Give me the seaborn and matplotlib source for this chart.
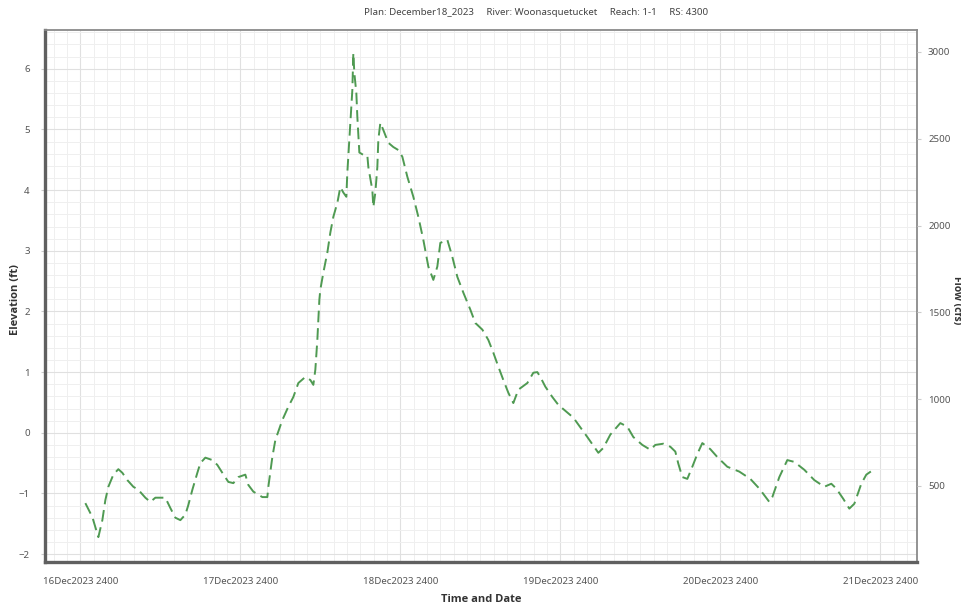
import pandas as pd
import seaborn as sns
from matplotlib import pyplot as plt
from matplotlib.ticker import MultipleLocator

sns.set_style("white")
plt.rcParams['font.family'] = ['Noto Sans', 'DejaVu Sans']

# hours after 16Dec2023 2400, and stage in ft
hours = [0.75, 1.8, 2.7, 3.3, 3.75, 4.2, 4.95, 5.7, 6.3, 7.05, 7.95, 8.7, 9.75, 10.5,
         11.25, 12.75, 13.5, 14.25, 15.0, 15.75, 16.2, 16.8, 17.55, 18.0, 18.75, 19.8,
         20.55, 21.3, 22.2, 22.95, 23.7, 24.75, 25.2, 25.95, 27.3, 28.05, 28.2, 28.8,
         29.25, 30.3, 31.2, 31.95, 32.7, 33.75, 34.5, 34.95, 35.25, 35.55, 35.85, 36.0,
         36.45, 37.05, 37.5, 37.95, 38.55, 39.0, 39.45, 39.9, 40.05, 40.35, 40.8, 40.95,
         41.1, 41.4, 41.55, 41.85, 42.45, 43.05, 43.2, 43.8, 43.95, 44.25, 44.55, 44.7,
         45.0, 45.45, 46.2, 46.95, 47.7, 48.3, 49.05, 49.95, 50.7, 51.45, 52.2, 52.95,
         53.55, 54.0, 55.05, 55.8, 56.55, 57.45, 58.5, 59.25, 60.3, 61.2, 61.95, 62.7,
         63.45, 64.2, 64.95, 65.7, 67.05, 67.95, 68.55, 69.0, 69.75, 70.8, 71.7, 73.95,
         76.05, 77.7, 78.45, 79.5, 81.0, 82.05, 82.95, 84.3, 85.5, 86.25, 87.45, 88.5,
         89.25, 89.7, 90.3, 91.05, 91.8, 92.55, 93.3, 94.5, 95.55, 97.05, 98.85, 100.5,
         101.85, 103.35, 103.8, 104.85, 106.05, 107.1, 108.6, 110.1, 111.6, 112.65,
         113.4, 114.45, 115.35, 116.1, 117.15, 117.9, 118.95]
elevation = [-1.16, -1.39, -1.72, -1.44, -1.11, -0.89, -0.69, -0.60, -0.66, -0.78, -0.89,
             -0.94, -1.07, -1.14, -1.07, -1.07, -1.24, -1.40, -1.44, -1.35, -1.19, -0.94,
             -0.66, -0.50, -0.41, -0.45, -0.53, -0.66, -0.81, -0.83, -0.73, -0.69, -0.86,
             -0.97, -1.06, -1.06, -0.89, -0.40, -0.12, 0.21, 0.43, 0.59, 0.82, 0.92, 0.87,
             0.79, 1.04, 1.53, 2.19, 2.36, 2.64, 2.97, 3.30, 3.56, 3.79, 4.05, 3.96, 3.89,
             4.29, 4.83, 5.65, 6.26, 5.93, 5.60, 5.21, 4.62, 4.58, 4.57, 4.38, 4.00, 3.72,
             3.96, 4.38, 4.83, 5.11, 4.99, 4.78, 4.71, 4.66, 4.55, 4.22, 3.89, 3.56, 3.18,
             2.74, 2.52, 2.74, 3.13, 3.18, 2.90, 2.57, 2.31, 2.03, 1.81, 1.70, 1.53, 1.32,
             1.09, 0.87, 0.66, 0.49, 0.71, 0.82, 0.99, 1.00, 0.92, 0.76, 0.59, 0.46, 0.25,
             -0.07, -0.33, -0.25, -0.03, 0.16, 0.10, -0.07, -0.20, -0.28, -0.20, -0.18,
             -0.23, -0.31, -0.51, -0.73, -0.76, -0.56, -0.35, -0.17, -0.27, -0.40, -0.56,
             -0.64, -0.76, -0.92, -1.14, -1.06, -0.73, -0.45, -0.48, -0.61, -0.78, -0.89,
             -0.84, -0.92, -1.09, -1.25, -1.17, -0.84, -0.69, -0.61]

tick_dates = ["2023-12-17", "2023-12-18", "2023-12-19", "2023-12-20", "2023-12-21", "2023-12-22"]
tick_labels = ["16Dec2023 2400", "17Dec2023 2400", "18Dec2023 2400",
               "19Dec2023 2400", "20Dec2023 2400", "21Dec2023 2400"]
elev_ticks = [-2, -1, 0, 1, 2, 3, 4, 5, 6]
flow_ticks = [500, 1000, 1500, 2000, 2500, 3000]

base = pd.Timestamp("2023-12-17 00:00")
df = pd.DataFrame({"time": base + pd.to_timedelta(hours, unit="h"), "elevation": elevation})

fig = plt.figure(figsize=(9.62, 6.06), dpi=100)
ax = fig.add_axes([0.0468, 0.0726, 0.9064, 0.878])

sns.lineplot(ax=ax, data=df, x="time", y="elevation", color="#4f9a52",
             linewidth=1.4, dashes=False)
ax.lines[0].set_dashes((6, 3))

ax.set_xlim(base - pd.Timedelta(hours=5.3), base + pd.Timedelta(hours=125.5))
ax.set_ylim(-2.13, 6.64)
ax.set_xticks(pd.to_datetime(tick_dates))
ax.set_xticklabels(tick_labels)
ax.xaxis.set_minor_locator(MultipleLocator(1 / 12))
ax.set_yticks(elev_ticks)
ax.yaxis.set_minor_locator(MultipleLocator(0.2))

ax.grid(which="major", color="#e0e0e0", linewidth=0.8)
ax.grid(which="minor", color="#efefef", linewidth=0.7)
ax.set_axisbelow(True)
ax.set_xlabel("")
ax.set_ylabel("")
ax.tick_params(axis="both", which="major", labelsize=7, labelcolor="#555555",
               length=3, color="#cccccc", direction="out", pad=8)
ax.tick_params(axis="x", which="minor", length=2, color="#e4e4e4", direction="out")
ax.tick_params(axis="y", which="minor", length=0)

for side in ["left", "bottom"]:
    ax.spines[side].set_color("#606060")
    ax.spines[side].set_linewidth(2.4)
for side in ["top", "right"]:
    ax.spines[side].set_color("#8a8a8a")
    ax.spines[side].set_linewidth(1.3)

ax2 = ax.twinx()
ax2.set_ylim(62, 3127)
ax2.set_yticks(flow_ticks)
ax2.tick_params(axis="y", labelsize=7, labelcolor="#555555", length=3,
                color="#cccccc", pad=5)
for s in ax2.spines.values():
    s.set_visible(False)

bold = ["Open Sans", "DejaVu Sans"]
fig.text(0.557, 0.98, "Plan: December18_2023     River: Woonasquetucket     Reach: 1-1     RS: 4300",
         ha="center", va="center", fontsize=7, color="#444444")
fig.text(0.016, 0.505, "Elevation (ft)", rotation=90, ha="center", va="center",
         fontsize=8, fontweight="bold", color="#333333", family=bold)
fig.text(0.9948, 0.505, "Flow (cfs)", rotation=270, ha="center", va="center",
         fontsize=7.5, fontweight="bold", color="#333333", family=bold)
fig.text(0.5, 0.011, "Time and Date", ha="center", va="center",
         fontsize=8, fontweight="bold", color="#333333", family=bold)

plt.savefig("out.png", dpi=100)
